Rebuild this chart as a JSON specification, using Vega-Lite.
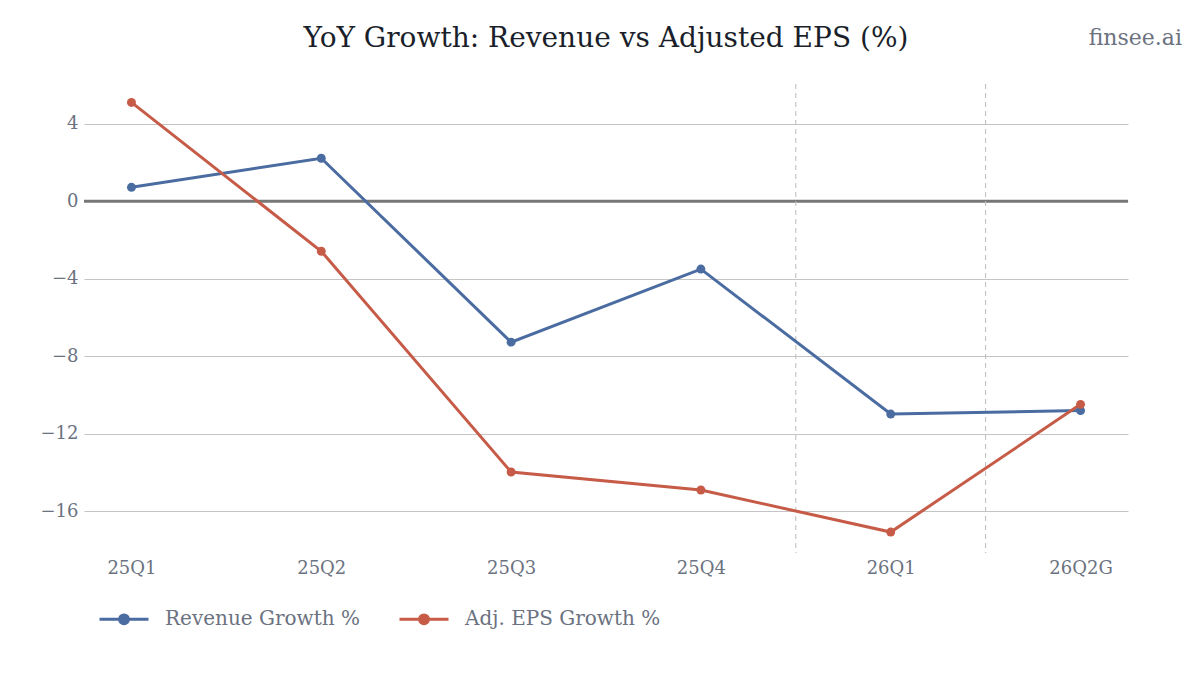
{
  "$schema": "https://vega.github.io/schema/vega-lite/v6.json",
  "width": 1044,
  "height": 469,
  "autosize": {"type": "none"},
  "padding": {"left": 84, "top": 84, "right": 72, "bottom": 122},
  "background": "white",
  "title": {
    "text": "YoY Growth: Revenue vs Adjusted EPS (%)",
    "anchor": "middle",
    "font": "DejaVu Serif",
    "fontSize": 28,
    "fontWeight": "normal",
    "color": "#1a1f2b",
    "offset": -26
  },
  "datasets": {
    "growth": [
      {"quarter": "25Q1", "series": "Revenue Growth %", "value": 0.72},
      {"quarter": "25Q2", "series": "Revenue Growth %", "value": 2.22},
      {"quarter": "25Q3", "series": "Revenue Growth %", "value": -7.27},
      {"quarter": "25Q4", "series": "Revenue Growth %", "value": -3.5},
      {"quarter": "26Q1", "series": "Revenue Growth %", "value": -10.98},
      {"quarter": "26Q2G", "series": "Revenue Growth %", "value": -10.8},
      {"quarter": "25Q1", "series": "Adj. EPS Growth %", "value": 5.1},
      {"quarter": "25Q2", "series": "Adj. EPS Growth %", "value": -2.58},
      {"quarter": "25Q3", "series": "Adj. EPS Growth %", "value": -13.97},
      {"quarter": "25Q4", "series": "Adj. EPS Growth %", "value": -14.9},
      {"quarter": "26Q1", "series": "Adj. EPS Growth %", "value": -17.07},
      {"quarter": "26Q2G", "series": "Adj. EPS Growth %", "value": -10.48}
    ],
    "dividers": [{"pos": 3.5}, {"pos": 4.5}],
    "zero": [{"y": 0}],
    "brand": [{"site": "finsee.ai"}]
  },
  "layer": [
    {
      "data": {"name": "zero"},
      "mark": {"type": "rule", "color": "#777777", "strokeWidth": 3},
      "encoding": {
        "y": {"field": "y", "type": "quantitative", "scale": {"domain": [-18.15, 6.05], "nice": false}}
      }
    },
    {
      "data": {"name": "dividers"},
      "mark": {"type": "rule", "color": "#bbbbbb", "strokeWidth": 1, "strokeDash": [5, 4]},
      "encoding": {
        "x": {"field": "pos", "type": "quantitative", "scale": {"domain": [-0.25, 5.25], "nice": false, "zero": false}, "axis": null}
      }
    },
    {
      "data": {"name": "growth"},
      "encoding": {
        "x": {
          "field": "quarter",
          "type": "ordinal",
          "sort": ["25Q1", "25Q2", "25Q3", "25Q4", "26Q1", "26Q2G"],
          "scale": {"type": "point", "padding": 0.25},
          "axis": {"title": null, "labelAngle": 0, "ticks": false, "domain": false, "grid": false, "labelPadding": 6}
        },
        "y": {
          "field": "value",
          "type": "quantitative",
          "scale": {"domain": [-18.15, 6.05], "nice": false},
          "axis": {"title": null, "values": [-16, -12, -8, -4, 0, 4], "ticks": false, "domain": false, "labelPadding": 6, "gridColor": "#c4c4c4", "gridWidth": 1}
        },
        "color": {
          "field": "series",
          "type": "nominal",
          "scale": {"domain": ["Revenue Growth %", "Adj. EPS Growth %"], "range": ["#4a6ca1", "#c65b47"]},
          "legend": {
            "title": null,
            "orient": "none",
            "direction": "horizontal",
            "legendX": 14,
            "legendY": 509,
            "symbolType": "M-1,0L1,0M-0.18,0A0.18,0.18,0,1,0,0.18,0A0.18,0.18,0,1,0,-0.18,0Z",
            "symbolSize": 2401,
            "symbolStrokeWidth": 3,
            "labelOffset": 15,
            "labelLimit": 400,
            "columnPadding": 33,
            "labelFont": "DejaVu Serif",
            "labelFontSize": 20,
            "labelColor": "#6b7280",
            "encode": {
              "symbols": {
                "update": {
                  "fill": {"scale": "color", "field": "value"},
                  "stroke": {"scale": "color", "field": "value"},
                  "strokeWidth": {"value": 3},
                  "opacity": {"value": 1}
                }
              }
            }
          }
        }
      },
      "layer": [
        {"mark": {"type": "line", "strokeWidth": 3}},
        {"mark": {"type": "point", "filled": true, "size": 80, "opacity": 1}}
      ]
    },
    {
      "data": {"name": "brand"},
      "mark": {"type": "text", "align": "right", "baseline": "middle", "font": "DejaVu Serif", "fontSize": 22, "color": "#6b7280"},
      "encoding": {
        "text": {"field": "site"},
        "x": {"value": 1098},
        "y": {"value": -46}
      }
    }
  ],
  "resolve": {"scale": {"x": "independent"}},
  "config": {
    "view": {"stroke": null},
    "axis": {"labelFont": "DejaVu Serif", "labelFontSize": 18, "labelColor": "#6b7280"}
  }
}
